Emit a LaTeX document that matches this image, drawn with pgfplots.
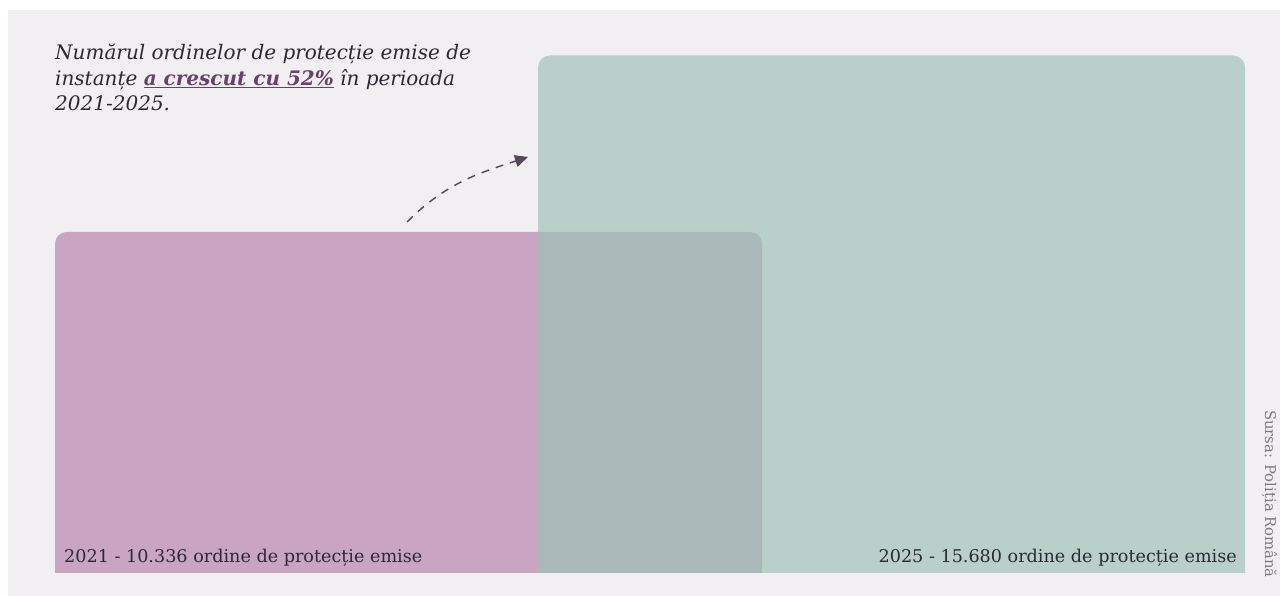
\documentclass[border=0pt]{standalone}
\usepackage{pgfplots}
\pgfplotsset{compat=1.18}
\usepackage{fontspec}
\setmainfont{DejaVu Serif}
\usetikzlibrary{arrows.meta}
\definecolor{bgpanel}{HTML}{F1EFF2}
\definecolor{purp}{HTML}{C9A5C3}
\definecolor{grn}{HTML}{9DC2B7}
\definecolor{txt}{HTML}{2D2934}
\definecolor{hl}{HTML}{6B3F6E}
\definecolor{arr}{HTML}{54475A}
\definecolor{src}{HTML}{7C7A7E}
\begin{document}
\begin{tikzpicture}
\path[use as bounding box] (0,0) rectangle (1280pt,596pt);
\clip (0,0) rectangle (1280pt,596pt);
\fill[white] (0,0) rectangle (1280pt,596pt);
\fill[bgpanel] (8pt,0) rectangle (1280pt,586pt);
\begin{axis}[at={(0,0)}, anchor=south west, width=1280pt, height=596pt,
  scale only axis, hide axis, xmin=0, xmax=1280, ymin=-696.9, ymax=17361.9, clip=false]
% 2021 bar
\addplot[fill=purp, draw=none, rounded corners=12pt] coordinates {(55,-500) (55,10336) (762,10336) (762,-500)} -- cycle;
% 2025 bar
\addplot[fill=grn, fill opacity=0.68, draw=none, rounded corners=12pt] coordinates {(538,-500) (538,15680) (1245,15680) (1245,-500)} -- cycle;
% bottom strip
\addplot[fill=bgpanel, draw=none] coordinates {(8,-696.9) (8,0) (1280,0) (1280,-696.9)} -- cycle;
\node[anchor=base west, text=txt, font=\fontsize{17.6}{21}\selectfont, inner sep=0pt] at (axis cs:64,303) {2021 - 10.336 ordine de protecție emise};
\node[anchor=base east, text=txt, font=\fontsize{17.6}{21}\selectfont, inner sep=0pt] at (axis cs:1237,303) {2025 - 15.680 ordine de protecție emise};
\end{axis}
\begin{scope}[font=\fontsize{20}{25}\selectfont\itshape, text=txt]
\node[anchor=base west, inner sep=0pt] at (55pt,536pt) {Numărul ordinelor de protecție emise de};
\node[anchor=base west, inner sep=0pt] at (55pt,510.5pt) {instanțe \textcolor{hl}{\underline{\textbf{a crescut cu 52\%}}} în perioada};
\node[anchor=base west, inner sep=0pt] at (55pt,485pt) {2021-2025.};
\end{scope}
\draw[arr, line width=1.4pt, dash pattern=on 8pt off 7pt, -{Triangle[length=13pt,width=12pt]}] (407pt,374pt) to[out=45,in=198] (528pt,439pt);
\node[anchor=base west, rotate=-90, text=src, font=\fontsize{14.8}{18}\selectfont, inner sep=0pt] at (1265pt,186pt) {Sursa: Poliția Română};
\end{tikzpicture}
\end{document}
